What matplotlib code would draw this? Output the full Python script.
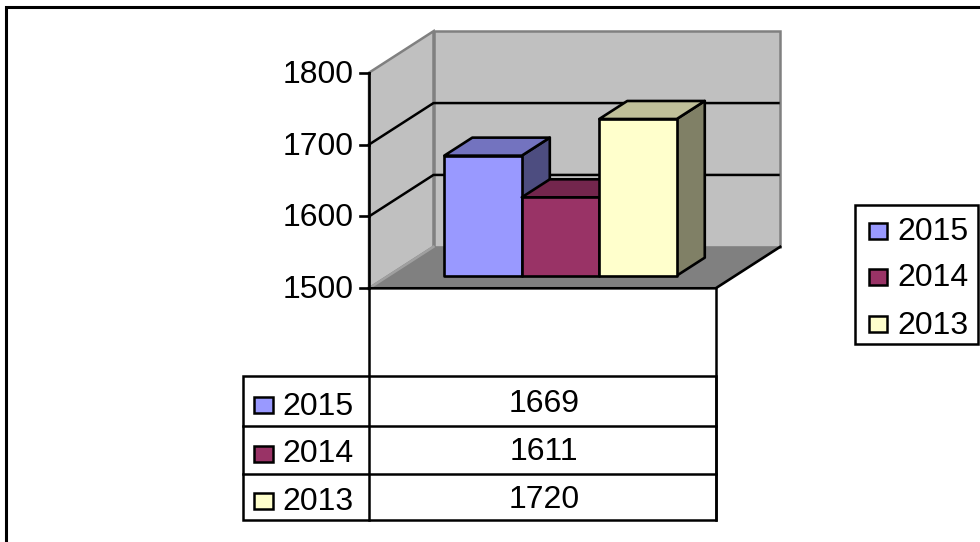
import matplotlib
matplotlib.use("Agg")
import matplotlib.pyplot as plt
from matplotlib.patches import Polygon, Rectangle

plt.rcParams["font.family"] = ["Liberation Sans", "DejaVu Sans"]

# data
years = ["2015", "2014", "2013"]
values = [1669, 1611, 1720]
colors = ["#9999FF", "#993366", "#FFFFCC"]
y_ticks = [1500, 1600, 1700, 1800]

# plot box in pixels
x0, x1 = 369.0, 715.7
y_min_px, y_max_px = 288.3, 72.7
dx, dy = 64.5, -41.5
v_min, v_max = 1500, 1800

# bar layout, fraction of the floor
bar_left = 0.167
bar_w = 0.2235
bar_depth = 0.27
bar_thick = 0.434
bar_floor = 1502

font_px = 23
lw = 1.9
lw_table = 1.8
lw_bar = 1.9


def shade(c, k):
    r, g, b = matplotlib.colors.to_rgb(c)
    return (r * k, g * k, b * k)


def proj(u, v, d=0.0):
    # u along x (0-1), v is the value, d is depth (0 front, 1 back)
    x = x0 + u * (x1 - x0) + d * dx
    y = y_min_px + (v - v_min) / (v_max - v_min) * (y_max_px - y_min_px) + d * dy
    return (x, y)


fig = plt.figure(figsize=(9.8, 5.42), dpi=100)
ax = fig.add_axes([0, 0, 1, 1])
ax.set_xlim(0, 980)
ax.set_ylim(542, 0)
ax.axis("off")

# outer frame
ax.add_patch(Rectangle((6.2, 7.3), 980, 560, fc="white", ec="black", lw=2.2, zorder=0))

# walls
wall = dict(fc="#C0C0C0", ec="#808080", lw=lw_table, zorder=1)
ax.add_patch(Polygon([proj(0, v_min), proj(0, v_max), proj(0, v_max, 1), proj(0, v_min, 1)], **wall))
ax.add_patch(Polygon([proj(0, v_min, 1), proj(0, v_max, 1), proj(1, v_max, 1), proj(1, v_min, 1)], **wall))
ax.add_patch(Polygon([proj(0, v_min), proj(1, v_min), proj(1, v_min, 1), proj(0, v_min, 1)],
                     fc="#808080", ec="none", zorder=1))
ax.plot(*zip(proj(0, v_min), proj(0, v_min, 1)), color="#A0A0A0", lw=lw_table, zorder=1.5)
ax.plot(*zip(proj(0, v_min), proj(1, v_min), proj(1, v_min, 1)), color="black", lw=lw, zorder=1.5)

# gridlines
for t in y_ticks[1:-1]:
    ax.plot(*zip(proj(0, t), proj(0, t, 1), proj(0.995, t, 1)), color="black", lw=lw_table, zorder=2)

# axis and ticks
ax.plot(*zip(proj(0, v_min), proj(0, v_max)), color="black", lw=lw, zorder=3)
for t in y_ticks:
    px, py = proj(0, t)
    ax.plot([px - 9, px], [py, py], color="black", lw=lw, zorder=3)
    ax.text(px - 15, py + 2, str(t), ha="right", va="center", fontsize=font_px, zorder=3)

# bars
for i, (val, c) in enumerate(zip(values, colors)):
    u0 = bar_left + i * bar_w
    u1 = u0 + bar_w
    d0 = bar_depth
    d1 = bar_depth + bar_thick
    z = 4 + i
    style = dict(ec="black", lw=lw_bar, joinstyle="round", zorder=z)
    ax.add_patch(Polygon([proj(u1, bar_floor, d0), proj(u1, val, d0), proj(u1, val, d1), proj(u1, bar_floor, d1)],
                         fc=shade(c, 0.5), **style))
    ax.add_patch(Polygon([proj(u0, val, d0), proj(u1, val, d0), proj(u1, val, d1), proj(u0, val, d1)],
                         fc=shade(c, 0.75), **style))
    ax.add_patch(Polygon([proj(u0, bar_floor, d0), proj(u1, bar_floor, d0), proj(u1, val, d0), proj(u0, val, d0)],
                         fc=c, **style))

# data table
row_lines = [375.7, 426, 474, 520]
table_left = 243.3
ax.plot([x0, x0], [y_min_px, row_lines[-1]], color="black", lw=lw_table, zorder=3)
ax.plot([x1, x1], [y_min_px, row_lines[-1]], color="black", lw=lw_table, zorder=3)
ax.add_patch(Rectangle((table_left, row_lines[0]), x1 - table_left, row_lines[-1] - row_lines[0],
                       fc="none", ec="black", lw=lw_table, zorder=3))
for yl in row_lines[1:-1]:
    ax.plot([table_left, x1], [yl, yl], color="black", lw=lw_table, zorder=3)
swatch_y = [405, 453.5, 501]
text_y = [407, 454.5, 502.5]
value_y = [404.5, 452.5, 500.5]
for year, val, c, sy, ty, vy in zip(years, values, colors, swatch_y, text_y, value_y):
    ax.add_patch(Rectangle((253.5, sy - 8), 19, 16, fc=c, ec="black", lw=lw_table, zorder=3))
    ax.text(282, ty, year, ha="left", va="center", fontsize=font_px, zorder=3)
    ax.text((x0 + x1) / 2 + 2, vy, str(val), ha="center", va="center", fontsize=font_px, zorder=3)

# legend
ax.add_patch(Rectangle((855, 205), 123, 138.5, fc="white", ec="black", lw=lw_table, zorder=3))
legend_y = [231, 277, 324]
for year, c, ly in zip(years, colors, legend_y):
    ax.add_patch(Rectangle((868.5, ly - 8), 18.5, 16, fc=c, ec="black", lw=lw_table, zorder=4))
    ax.text(897, ly + 1.5, year, ha="left", va="center", fontsize=font_px, zorder=4)

fig.savefig("out.png", dpi=100)
